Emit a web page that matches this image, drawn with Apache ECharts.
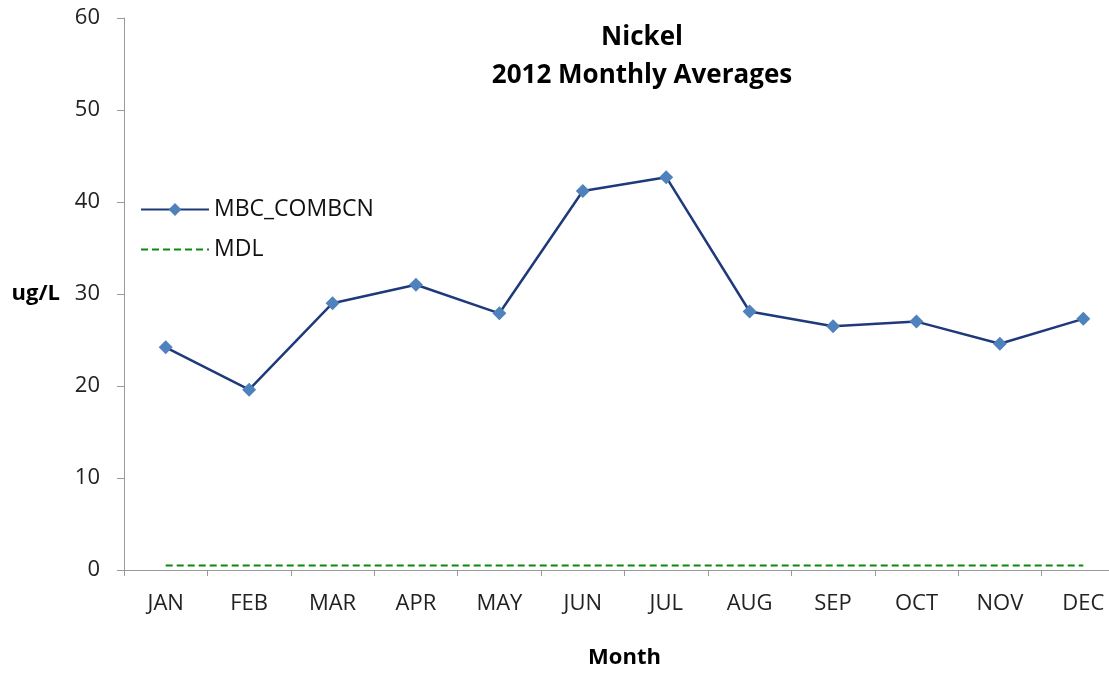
<!DOCTYPE html>
<html><head><meta charset="utf-8">
<script src="https://cdn.jsdelivr.net/npm/echarts@6/dist/echarts.min.js"></script>
<style>html,body{margin:0;padding:0;background:#fff;overflow:hidden}#c{width:1109px;height:673px}</style>
</head><body><div id="c"></div>
<script>
const months = ['JAN','FEB','MAR','APR','MAY','JUN','JUL','AUG','SEP','OCT','NOV','DEC'];
const nickel = [24.2, 19.6, 29.0, 31.0, 27.9, 41.2, 42.7, 28.1, 26.5, 27.0, 24.6, 27.3];
const mdl = [0.5, 0.5, 0.5, 0.5, 0.5, 0.5, 0.5, 0.5, 0.5, 0.5, 0.5, 0.5];
const titleLines = ['Nickel', '2012 Monthly Averages'];
const F = "'Open Sans', 'Liberation Sans', sans-serif";
const chart = echarts.init(document.getElementById('c'), null, {renderer:'canvas'});
chart.setOption({
  animation: false,
  title: {
    text: titleLines.join('\n'),
    left: 637, top: 14, textAlign: 'center',
    textStyle: {fontFamily: F, fontSize: 26, fontWeight: 'bold', color: '#000', lineHeight: 38}
  },
  legend: {
    orient: 'vertical', left: 135, top: 193,
    itemWidth: 68, itemHeight: 16, itemGap: 17,
    textStyle: {fontFamily: F, fontSize: 23, color: '#111'},
    data: ['MBC_COMBCN', 'MDL']
  },
  grid: {left: 124, right: -16, top: 18, bottom: 103, containLabel: false, outerBoundsMode: 'none'},
  xAxis: {
    type: 'category', data: months, boundaryGap: true,
    name: 'Month', nameLocation: 'middle', nameGap: 77,
    nameTextStyle: {fontFamily: F, fontSize: 22, fontWeight: 'bold', color: '#000'},
    axisLine: {lineStyle: {color: '#999', width: 1}},
    axisTick: {show: true, length: 6, alignWithLabel: false, lineStyle: {color: '#999'}},
    axisLabel: {fontFamily: F, fontSize: 22, color: '#222', margin: 23}
  },
  yAxis: {
    type: 'value', min: 0, max: 60, interval: 10,
    name: 'ug/L', nameLocation: 'middle', nameGap: 64, nameRotate: 0,
    nameTextStyle: {fontFamily: F, fontSize: 22, fontWeight: 'bold', color: '#000', padding: [12, 0, 0, 0]},
    axisLine: {show: true, lineStyle: {color: '#999', width: 1}},
    axisTick: {show: true, length: 7, lineStyle: {color: '#999'}},
    axisLabel: {fontFamily: F, fontSize: 22, color: '#222', margin: 24},
    splitLine: {show: false}
  },
  series: [
    {
      name: 'MBC_COMBCN', type: 'line', data: nickel,
      symbol: 'diamond', symbolSize: 14,
      lineStyle: {color: '#1F3A7A', width: 2.5},
      itemStyle: {color: '#4F81BD', borderWidth: 0}
    },
    {
      name: 'MDL', type: 'line', data: mdl,
      symbol: 'none',
      lineStyle: {color: '#0A8A0A', width: 2, type: [7, 4]},
      itemStyle: {color: 'rgba(0,0,0,0)', borderWidth: 0}
    }
  ]
});
</script></body></html>
